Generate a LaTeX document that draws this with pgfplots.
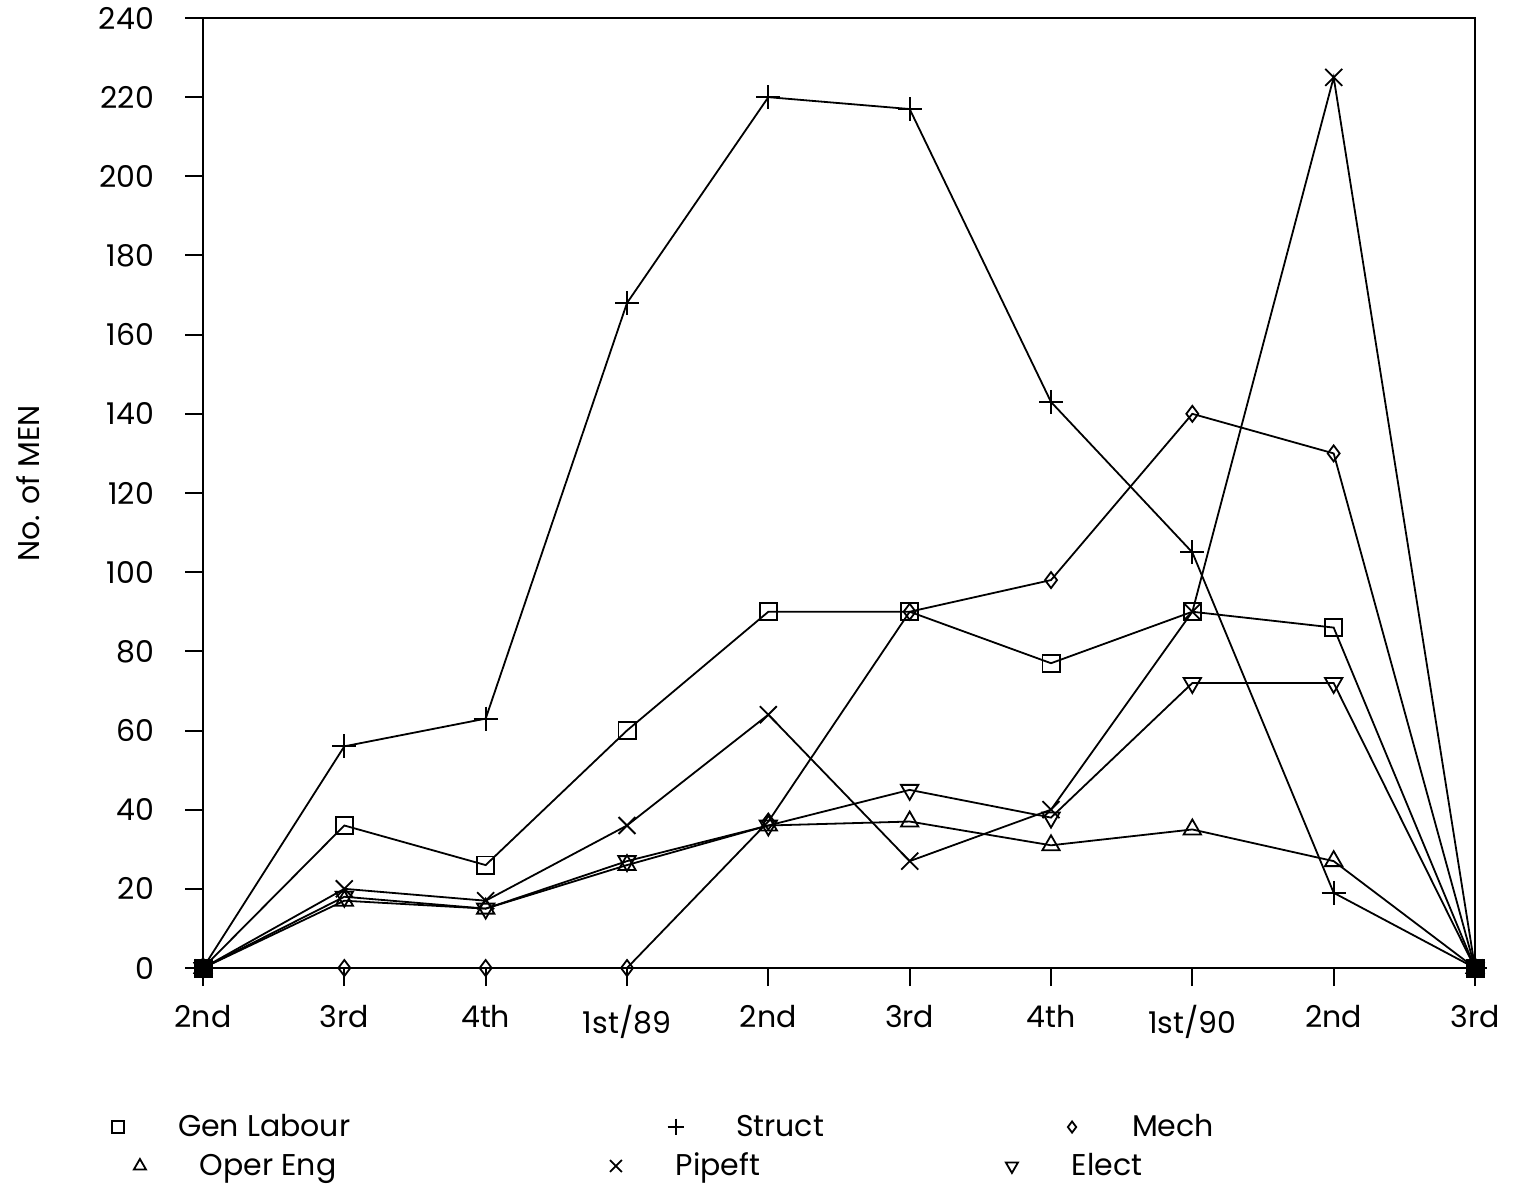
\documentclass[border=0pt]{standalone}
\usepackage{fontspec}
\setmainfont{Poppins}
\usepackage{pgfplots}
\pgfplotsset{compat=1.18}
\begin{document}
\begin{tikzpicture}[font=\fontsize{15}{18}\selectfont]
\useasboundingbox (0,0) rectangle (760pt,592pt);
\pgfplotsset{
  common/.style={
    at={(101.5pt,108pt)}, anchor=south west,
    scale only axis, width=636pt, height=475pt,
    xmin=0, xmax=9, ymin=0, ymax=240,
    clip=false,
    every axis plot/.append style={black, line width=0.9pt, mark options={solid}},
    legend columns=3,
    legend image code/.code={\path[draw=none,fill=none] (-10pt,0pt) -- (30pt,0pt); \draw[##1, only marks, every mark/.append style={scale=0.7}] plot coordinates {(0pt,0pt)};},
  },
  legstyle/.style={
    legend style={draw=none, fill=none, inner sep=0pt, outer sep=0pt, anchor=west,
      column sep=0pt, nodes={inner sep=0pt, anchor=west},
      /tikz/every even column/.style={column sep=0pt},
      /tikz/every odd column/.style={column sep=0pt}},
  },
}
\begin{axis}[common, legstyle,
  legend style={at={(axis description cs:-0.0825,-0.1674)}},
  axis line style={line width=1pt},
  tick style={black, line width=1pt},
  tick align=outside, major tick length=9pt,
  xtick pos=bottom, ytick pos=left,
  xtick={0,...,9},
  xticklabels={2nd,3rd,4th,1st/89,2nd,3rd,4th,1st/90,2nd,3rd},
  ytick={0,20,...,240},
  /pgf/number format/assume math mode=true,
  yticklabel style={xshift=-12pt},
  xticklabel style={yshift=-6pt},
  ylabel={No. of MEN},
  every axis y label/.style={at={(axis description cs:-0.1376,0.51)}, rotate=90, anchor=center},
]
\addplot[mark=square, mark size=4.3pt] coordinates {(0,0)(1,36)(2,26)(3,60)(4,90)(5,90)(6,77)(7,90)(8,86)(9,0)};
\addlegendentry{\makebox[239pt][l]{Gen Labour}}
\addplot[mark=+, mark size=6pt] coordinates {(0,0)(1,56)(2,63)(3,168)(4,220)(5,217)(6,143)(7,105)(8,19)(9,0)};
\addlegendentry{\makebox[158pt][l]{Struct}}
\addplot[mark=diamond, mark size=4pt] coordinates {(0,0)(1,0)(2,0)(3,0)(4,37)(5,90)(6,98)(7,140)(8,130)(9,0)};
\addlegendentry{Mech}
\addplot[only marks, mark=square*, mark size=4.3pt, forget plot] coordinates {(0,0)(9,0)};
\end{axis}
\begin{axis}[common, legstyle, hide axis,
  legend style={at={(axis description cs:-0.0653,-0.2084)}},
]
\addplot[mark=triangle, mark size=5pt] coordinates {(0,0)(1,17)(2,15)(3,26)(4,36)(5,37)(6,31)(7,35)(8,27)(9,0)};
\addlegendentry{\makebox[198pt][l]{Oper Eng}}
\addplot[mark=x, mark size=6pt] coordinates {(0,0)(1,20)(2,17)(3,36)(4,64)(5,27)(6,40)(7,90)(8,225)(9,0)};
\addlegendentry{\makebox[158pt][l]{Pipeft}}
\addplot[mark=triangle, mark size=5pt, mark options={solid, rotate=180}] coordinates {(0,0)(1,18)(2,15)(3,27)(4,36)(5,45)(6,38)(7,72)(8,72)(9,0)};
\addlegendentry{Elect}
\end{axis}
\end{tikzpicture}
\end{document}
